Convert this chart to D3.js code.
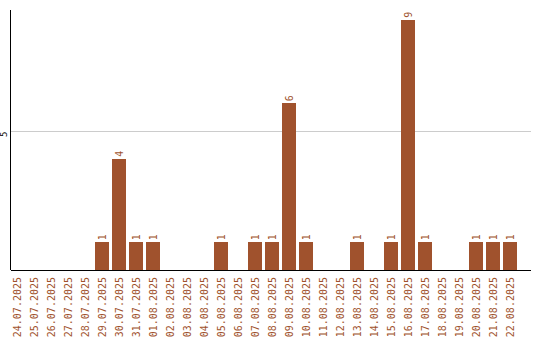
<!DOCTYPE html>
<html>
<head>
<meta charset="utf-8">
<script src="https://cdn.jsdelivr.net/npm/d3@7"></script>
<style>
  body { margin: 0; background: #fff; }
  svg text { font-family: "DejaVu Sans Mono", monospace; }
</style>
</head>
<body>
<div id="area"></div>
<script>
let dates = ['24.07.2025', '25.07.2025', '26.07.2025', '27.07.2025', '28.07.2025', '29.07.2025',
  '30.07.2025', '31.07.2025', '01.08.2025', '02.08.2025', '03.08.2025', '04.08.2025',
  '05.08.2025', '06.08.2025', '07.08.2025', '08.08.2025', '09.08.2025', '10.08.2025',
  '11.08.2025', '12.08.2025', '13.08.2025', '14.08.2025', '15.08.2025', '16.08.2025',
  '17.08.2025', '18.08.2025', '19.08.2025', '20.08.2025', '21.08.2025', '22.08.2025']
let counts = [0, 0, 0, 0, 0, 1, 4, 1, 1, 0, 0, 0, 1, 0, 1, 1, 6, 1, 0, 0, 1, 0, 1, 9, 1, 0, 0, 1, 1, 1]
let yTicks = [5]
let yMax = 9.35

let bar_color = '#a0522d'
let grid_color = '#cccccc'

let width = 540
let height = 340
let plot_left = 10.5
let plot_right = 531
let plot_top = 10
let plot_bottom = 270

let svg = d3.select('#area').append('svg')
  .attr('width', width)
  .attr('height', height)

let x = d3.scaleBand()
  .domain(dates)
  .range([10, 517])
  .paddingInner(3 / 17)
  .paddingOuter(0)

let y = d3.scaleLinear()
  .domain([0, yMax])
  .range([plot_bottom, plot_top])

// gridlines + rotated y tick labels
let yAxis = svg.append('g')
  .attr('transform', 'translate(' + plot_left + ',0)')
  .call(d3.axisLeft(y).tickValues(yTicks).tickSize(-(plot_right - plot_left)).tickFormat(d3.format('d')))
yAxis.select('.domain').remove()
yAxis.selectAll('.tick line')
  .attr('stroke', grid_color)
  .attr('shape-rendering', 'crispEdges')
yAxis.selectAll('.tick text')
  .attr('font-size', 9)
  .attr('fill', '#000')
  .attr('x', 0).attr('dy', 0)
  .attr('text-anchor', 'end')
  .attr('transform', 'translate(-4,0) rotate(-90)')

// bars
svg.append('g').selectAll('rect')
  .data(counts)
  .join('rect')
  .attr('x', (d, i) => x(dates[i]))
  .attr('y', d => y(d))
  .attr('width', x.bandwidth())
  .attr('height', d => y(0) - y(d))
  .attr('fill', bar_color)
  .attr('shape-rendering', 'crispEdges')

// value labels
svg.append('g').selectAll('text')
  .data(counts.map((d, i) => ({ v: d, date: dates[i] })).filter(d => d.v > 0))
  .join('text')
  .attr('transform', d => 'translate(' + (x(d.date) + x.bandwidth() / 2) + ',' + (y(d.v) - 2) + ') rotate(-90)')
  .attr('dy', '0.35em')
  .attr('font-size', 10)
  .attr('fill', bar_color)
  .text(d => d.v)

// x axis with rotated date labels
let xAxis = svg.append('g')
  .attr('transform', 'translate(0,' + plot_bottom + ')')
  .call(d3.axisBottom(x).tickSize(0).tickSizeOuter(0))
xAxis.select('.domain').remove()
xAxis.selectAll('.tick text')
  .attr('font-size', 10)
  .attr('fill', bar_color)
  .attr('y', 0).attr('dy', '0.35em')
  .attr('text-anchor', 'end')
  .attr('transform', 'translate(0,7) rotate(-90)')

// axis lines
svg.append('line')
  .attr('x1', plot_left).attr('x2', plot_left)
  .attr('y1', plot_top).attr('y2', plot_bottom)
  .attr('stroke', '#000')
  .attr('shape-rendering', 'crispEdges')
svg.append('line')
  .attr('x1', plot_left).attr('x2', plot_right)
  .attr('y1', plot_bottom + 0.5).attr('y2', plot_bottom + 0.5)
  .attr('stroke', '#000')
  .attr('shape-rendering', 'crispEdges')
</script>
</body>
</html>
